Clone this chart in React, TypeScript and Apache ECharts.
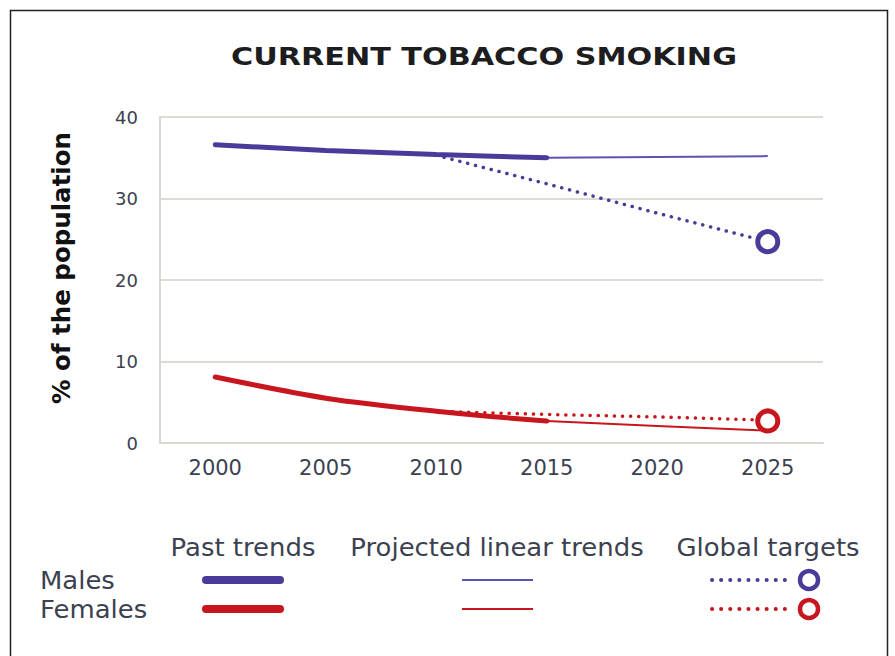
import React, { useEffect, useRef } from "react";
import * as echarts from "echarts";

const years = ["2000", "2005", "2010", "2015", "2020", "2025"];
const yTicks = [0, 10, 20, 30, 40];
const malesPast = [36.6, 35.9, 35.4, 35.0, null, null];
const malesProjected = [null, null, null, 35.0, 35.1, 35.2];
const malesTarget = [null, null, 35.3, 31.8, 28.2, 24.7];
const malesTargetPoint = [null, null, null, null, null, 24.7];
const femalesPast = [8.1, 5.5, 3.9, 2.7, null, null];
const femalesProjected = [null, null, null, 2.7, 2.1, 1.5];
const femalesTarget = [null, null, 3.9, 3.5, 3.2, 2.8];
const femalesTargetPoint = [null, null, null, null, null, 2.7];

const chartTitle = "CURRENT TOBACCO SMOKING";
const yAxisTitle = "% of the population";
const legendHeaders = ["Past trends", "Projected linear trends", "Global targets"];
const legendRows = ["Males", "Females"];

const PURPLE = "#4a3b9a";
const PURPLE_LIGHT = "#5d55ad";
const RED = "#c8161e";
const FONT = "'DejaVu Sans', sans-serif";
const TXT = "#3c4150";

const toData = (a: (number | null)[]) => a.map((v) => (v == null ? "-" : v));

export default function App() {
  const ref = useRef<HTMLDivElement>(null);
  useEffect(() => {
    if (!ref.current) return;
    const chart = echarts.init(ref.current, null, { renderer: "svg" });
    const dotted = [0.1, 8];
    const option: any = {
      animation: false,
      backgroundColor: "#ffffff",
      grid: { left: 160, right: 72, top: 117, bottom: 213 },
      xAxis: {
        type: "category",
        data: years,
        boundaryGap: true,
        axisLine: { show: true, lineStyle: { color: "#d8d8d2", width: 2 } },
        axisTick: { show: false },
        axisLabel: { fontFamily: FONT, fontSize: 21, color: TXT, margin: 14 },
        splitLine: { show: false },
      },
      yAxis: {
        type: "value",
        min: 0,
        max: 40,
        interval: 10,
        axisLine: { show: true, lineStyle: { color: "#d8d8d2", width: 2 } },
        axisTick: { show: false },
        axisLabel: { fontFamily: FONT, fontSize: 18, color: TXT, margin: 22 },
        splitLine: { show: true, lineStyle: { color: "#dcdcd6", width: 2 } },
      },
      series: [
        {
          type: "line",
          data: toData(malesProjected),
          showSymbol: false,
          lineStyle: { color: PURPLE_LIGHT, width: 2 },
          z: 2,
        },
        {
          type: "line",
          data: toData(malesTarget),
          showSymbol: false,
          lineStyle: { color: PURPLE, width: 3.5, type: dotted, cap: "round" },
          z: 2,
        },
        {
          type: "line",
          data: toData(malesPast),
          showSymbol: false,
          smooth: 0.3,
          lineStyle: { color: PURPLE, width: 5, cap: "round" },
          z: 3,
        },
        {
          type: "line",
          data: toData(femalesProjected),
          showSymbol: false,
          lineStyle: { color: RED, width: 2 },
          z: 2,
        },
        {
          type: "line",
          data: toData(femalesTarget),
          showSymbol: false,
          lineStyle: { color: RED, width: 3.5, type: dotted, cap: "round" },
          z: 2,
        },
        {
          type: "line",
          data: toData(femalesPast),
          showSymbol: false,
          smooth: 0.3,
          lineStyle: { color: RED, width: 5, cap: "round" },
          z: 3,
        },
        {
          type: "scatter",
          data: toData(malesTargetPoint),
          symbol: "circle",
          symbolSize: 20,
          itemStyle: { color: "#ffffff", borderColor: PURPLE, borderWidth: 5, opacity: 1 },
          z: 4,
        },
        {
          type: "scatter",
          data: toData(femalesTargetPoint),
          symbol: "circle",
          symbolSize: 20,
          itemStyle: { color: "#ffffff", borderColor: RED, borderWidth: 5, opacity: 1 },
          z: 4,
        },
      ],
      graphic: [
        {
          type: "rect",
          shape: { x: 10.5, y: 10.5, width: 877, height: 700 },
          style: { fill: "none", stroke: "#222", lineWidth: 1.5 },
          silent: true,
        },
        {
          type: "text",
          x: 484,
          y: 57,
          scaleX: 1.26,
          style: {
            text: chartTitle,
            fontFamily: FONT,
            fontWeight: "bold",
            fontSize: 24,
            fill: "#1d1d1f",
            align: "center",
            verticalAlign: "middle",
          },
        },
        {
          type: "text",
          x: 61,
          y: 268,
          rotation: Math.PI / 2,
          style: {
            text: yAxisTitle,
            fontFamily: FONT,
            fontWeight: "bold",
            fontSize: 24.5,
            fill: "#111",
            align: "center",
            verticalAlign: "middle",
          },
        },
        ...legendHeaders.map((t, i) => ({
          type: "text",
          x: [243, 497, 768][i],
          y: 548,
          scaleX: 1.08,
          style: {
            text: t,
            fontFamily: FONT,
            fontSize: 24,
            fill: TXT,
            align: "center",
            verticalAlign: "middle",
          },
        })),
        ...legendRows.map((t, i) => ({
          type: "text",
          x: 40,
          y: 581 + i * 29,
          scaleX: 1.08,
          style: {
            text: t,
            fontFamily: FONT,
            fontSize: 24,
            fill: TXT,
            align: "left",
            verticalAlign: "middle",
          },
        })),
        ...[PURPLE, RED].map((c, i) => ({
          type: "line",
          shape: { x1: 206, y1: 580 + i * 29, x2: 280, y2: 580 + i * 29 },
          style: { stroke: c, lineWidth: 8, lineCap: "round" },
        })),
        ...[PURPLE_LIGHT, RED].map((c, i) => ({
          type: "line",
          shape: { x1: 462, y1: 580 + i * 29, x2: 533, y2: 580 + i * 29 },
          style: { stroke: c, lineWidth: 2 },
        })),
        ...[PURPLE, RED].map((c, i) => ({
          type: "line",
          shape: { x1: 712, y1: 580 + i * 29, x2: 790, y2: 580 + i * 29 },
          style: { stroke: c, lineWidth: 4, lineDash: [0.1, 9], lineCap: "round" },
        })),
        ...[PURPLE, RED].map((c, i) => ({
          type: "circle",
          shape: { cx: 809, cy: 580 + i * 29, r: 9 },
          style: { fill: "#fff", stroke: c, lineWidth: 4.5 },
        })),
      ],
    };
    chart.setOption(option);
    return () => chart.dispose();
  }, []);
  return (
    <div
      ref={ref}
      style={{ position: "fixed", left: 0, top: 0, width: 895, height: 656 }}
    />
  );
}
